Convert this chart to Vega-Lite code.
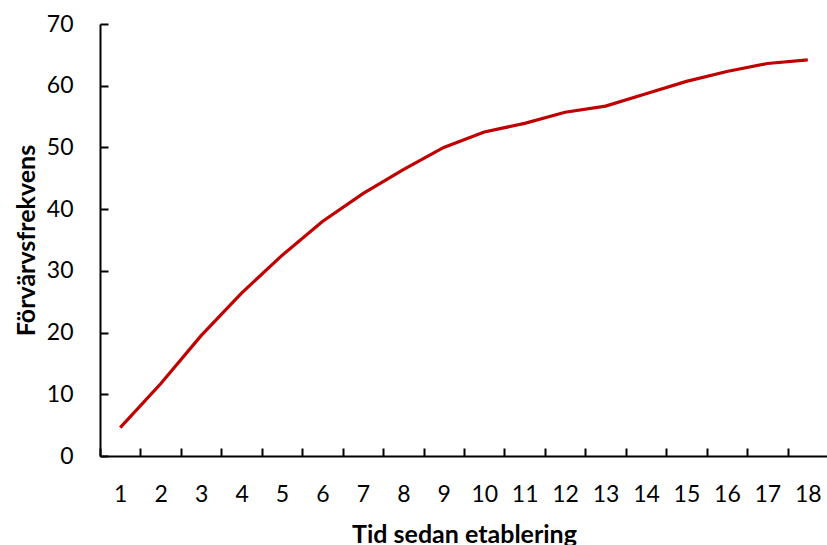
{
  "$schema": "https://vega.github.io/schema/vega-lite/v6.json",
  "width": 728,
  "height": 432,
  "autosize": {"type": "none"},
  "padding": {"left": 100, "top": 24, "right": 0, "bottom": 89},
  "background": "white",
  "config": {
    "view": {"stroke": null},
    "font": "Lato",
    "axis": {
      "grid": false,
      "domainColor": "black",
      "domainWidth": 2,
      "tickColor": "black",
      "tickWidth": 2,
      "labelColor": "black",
      "labelFont": "Lato",
      "labelFontSize": 23,
      "titleColor": "black",
      "titleFont": "Lato",
      "titleFontWeight": "bold",
      "titleFontSize": 25
    }
  },
  "data": {
    "values": [
      {"t": 1, "v": 4.6},
      {"t": 2, "v": 11.7},
      {"t": 3, "v": 19.5},
      {"t": 4, "v": 26.4},
      {"t": 5, "v": 32.5},
      {"t": 6, "v": 38.0},
      {"t": 7, "v": 42.5},
      {"t": 8, "v": 46.4},
      {"t": 9, "v": 50.0},
      {"t": 10, "v": 52.5},
      {"t": 11, "v": 53.9},
      {"t": 12, "v": 55.7},
      {"t": 13, "v": 56.7},
      {"t": 14, "v": 58.7},
      {"t": 15, "v": 60.7},
      {"t": 16, "v": 62.3},
      {"t": 17, "v": 63.6},
      {"t": 18, "v": 64.2}
    ]
  },
  "mark": {"type": "line", "color": "#C00000", "strokeWidth": 3.2},
  "encoding": {
    "x": {
      "field": "t",
      "type": "ordinal",
      "bandPosition": 0.5,
      "scale": {"type": "band", "paddingInner": 0, "paddingOuter": 0},
      "axis": {
        "title": "Tid sedan etablering",
        "labelAngle": 0,
        "tickBand": "extent",
        "tickSize": -8,
        "labelPadding": 35,
        "titlePadding": 16
      }
    },
    "y": {
      "field": "v",
      "type": "quantitative",
      "scale": {"domain": [0, 70], "nice": false, "zero": true},
      "axis": {
        "title": "Förvärvsfrekvens",
        "values": [0, 10, 20, 30, 40, 50, 60, 70],
        "tickSize": -8,
        "labelPadding": 35,
        "titlePadding": 7
      }
    }
  }
}
